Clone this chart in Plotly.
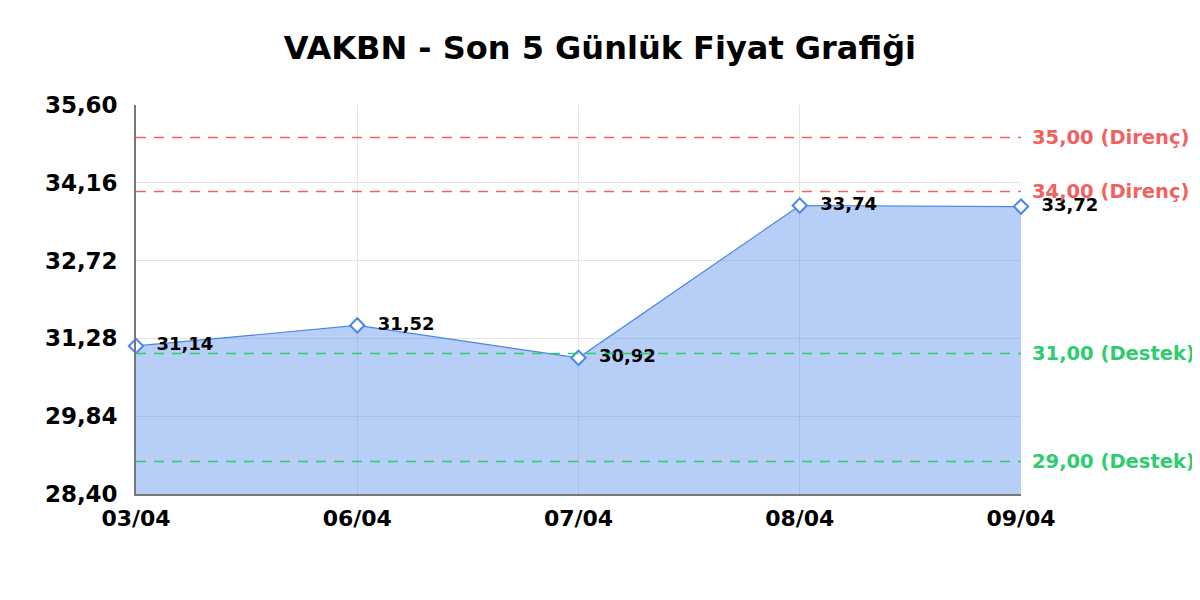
import plotly.graph_objects as go

# Data --------------------------------------------------------------
dates = ["03/04", "06/04", "07/04", "08/04", "09/04"]
prices = [31.14, 31.52, 30.92, 33.74, 33.72]

resistance = [35.00, 34.00]
support = [31.00, 29.00]

y_ticks = [28.40, 29.84, 31.28, 32.72, 34.16, 35.60]

FONT = "DejaVu Sans"
BLUE = "#4a86e8"
RED = "#f06262"
GREEN = "#2ecc71"
DASH = "10px,8px"

fig = go.Figure()

fig.add_trace(go.Scatter(
    x=dates,
    y=prices,
    mode="lines+markers+text",
    fill="tozeroy",
    fillcolor="rgba(74,134,232,0.4)",
    line=dict(color=BLUE, width=1.2),
    marker=dict(symbol="diamond", size=11, color="white",
                line=dict(width=2, color=BLUE)),
    texttemplate="  %{y:.2f}",
    textposition="middle right",
    textfont=dict(family=FONT, size=18, color="black", weight="bold"),
    cliponaxis=False,
    showlegend=False,
))

# support / resistance lines
for level in resistance:
    fig.add_hline(y=level, line=dict(color=RED, width=1.5, dash=DASH))
    fig.add_annotation(x=1, xref="paper", y=level, yref="y",
                       text=f"{level:.2f}".replace(".", ",") + " (Direnç)",
                       showarrow=False, xanchor="left", xshift=9,
                       font=dict(family=FONT, size=19.5, color=RED, weight="bold"))
for level in support:
    fig.add_hline(y=level, line=dict(color=GREEN, width=1.5, dash=DASH))
    fig.add_annotation(x=1, xref="paper", y=level, yref="y",
                       text=f"{level:.2f}".replace(".", ",") + " (Destek)",
                       showarrow=False, xanchor="left", xshift=9,
                       font=dict(family=FONT, size=19.5, color=GREEN, weight="bold"))

fig.update_layout(
    width=1200, height=600,
    title=dict(text="VAKBN - Son 5 Günlük Fiyat Grafiği", x=0.4933, y=0.933,
               xanchor="center", yanchor="middle",
               font=dict(family=FONT, size=32, color="black", weight="bold")),
    separators=",.",
    margin=dict(l=128, r=187, t=97, b=114),
    paper_bgcolor="white",
    plot_bgcolor="white",
    font=dict(family=FONT, color="black"),
    xaxis=dict(
        type="category",
        range=[0, len(dates) - 1],
        showgrid=True, gridcolor="#e4e4e4",
        showline=True, linecolor="#777777", linewidth=1.5,
        ticks="", ticklen=0, ticklabelstandoff=4,
        tickfont=dict(family=FONT, size=22, color="black", weight="bold"),
    ),
    yaxis=dict(
        range=[y_ticks[0], y_ticks[-1]],
        tickvals=y_ticks,
        tickformat=".2f",
        showgrid=True, gridcolor="#e4e4e4",
        showline=True, linecolor="#777777", linewidth=1.5,
        zeroline=False, ticklabelstandoff=12,
        tickfont=dict(family=FONT, size=23, color="black", weight="bold"),
    ),
)

fig.write_html("out.html")
